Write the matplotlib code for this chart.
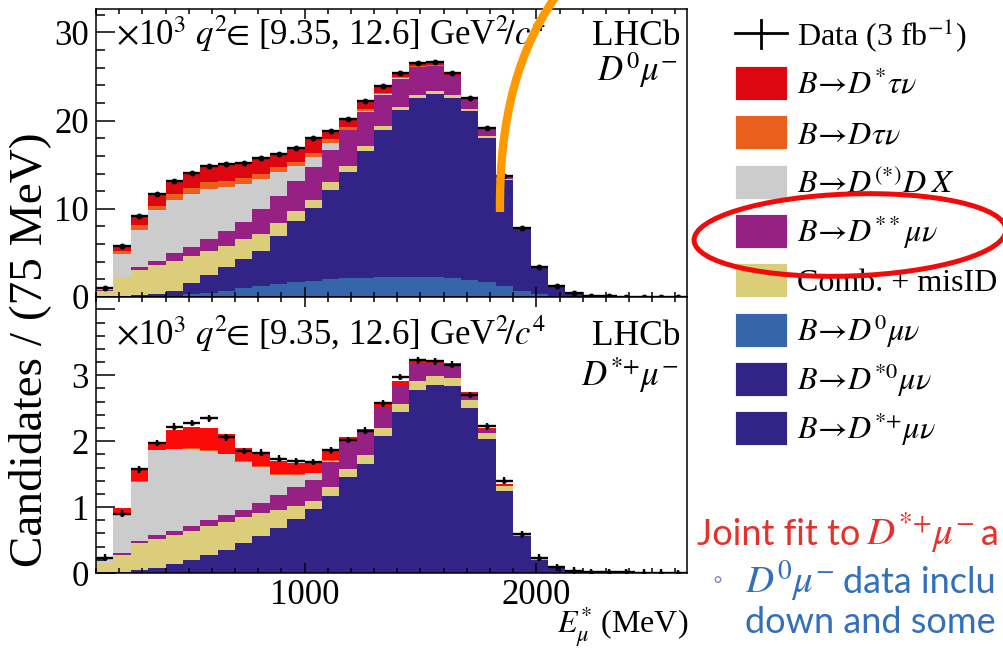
import numpy as np
import matplotlib
matplotlib.use("Agg")
import matplotlib.pyplot as plt
from matplotlib.patches import Rectangle, Ellipse, PathPatch
from matplotlib.path import Path
from matplotlib.lines import Line2D
import matplotlib.transforms as mtransforms
from matplotlib.ticker import MultipleLocator

plt.rcParams['font.family'] = ['Liberation Serif', 'DejaVu Serif']
plt.rcParams['mathtext.fontset'] = 'stix'

# ---------------- data (x 10^3 candidates per 75 MeV bin) ----------------
bin_lo, bin_hi, bin_w = 100, 2650, 75

top_data  = [1.02, 5.76, 9.24, 11.7, 13.14, 14.05, 14.89, 15.11, 15.19, 15.8, 16.25, 16.9, 18.03, 18.79,
             20.15, 22.2, 23.94, 25.42, 26.55, 26.67, 25.42, 22.58, 19.17, 13.71, 7.84, 3.45, 1.25, 0.40,
             0.13, 0.08, 0.05, 0.04, 0.03, 0.02]
top_d0mu  = [0, 0, 0, 0.02, 0.15, 0.3, 0.4, 0.7, 1.0, 1.25, 1.5, 1.7, 1.85, 2.0, 2.1, 2.2, 2.25, 2.3, 2.3,
             2.25, 2.1, 1.9, 1.65, 1.3, 0.7, 0.35, 0.1, 0.03, 0, 0, 0, 0, 0, 0]
top_dstmu = [0, 0.11, 0.19, 0.32, 0.57, 1.25, 2.14, 2.67, 3.32, 4.02, 5.36, 6.9, 8.26, 10.16, 12.07, 14.35,
             16.65, 18.95, 20.31, 20.82, 20.51, 19.2, 16.38, 11.92, 7.03, 3.02, 1.07, 0.32, 0.1, 0.06, 0.04,
             0.03, 0.02, 0.01]
top_comb  = [0.72, 2.12, 2.88, 3.3, 3.41, 3.14, 2.73, 2.46, 2.2, 1.9, 1.5, 1.1, 0.91, 0.87, 0.68, 0.53, 0.45,
             0.3, 0.27, 0.3, 0.27, 0.27, 0.19, 0.19, 0.15, 0.1, 0.07, 0.04, 0.02, 0.02, 0.01, 0.01, 0.01, 0.01]
top_dss   = [0.03, 0.08, 0.3, 0.49, 0.87, 1.02, 1.33, 1.7, 2.0, 2.77, 3.14, 3.41, 3.71, 3.6, 4.05, 3.9, 3.6,
             3.22, 3.22, 2.84, 2.16, 1.06, 0.87, 0.3, 0.05, 0.03, 0.01, 0, 0, 0, 0, 0, 0, 0]
top_ddx   = [0.3, 2.58, 4.24, 5.68, 6.02, 5.98, 5.68, 4.92, 4.32, 3.41, 2.65, 1.7, 1.14, 0.83, 0.08, 0.08,
             0.05, 0.03, 0.02, 0.02, 0.02, 0.01, 0, 0, 0, 0, 0, 0, 0, 0, 0, 0, 0, 0]
top_dtau  = [0, 0.3, 0.5, 0.55, 0.65, 0.7, 0.75, 0.75, 0.7, 0.65, 0.6, 0.55, 0.5, 0.4, 0.3, 0.2, 0.15, 0.1,
             0.05, 0.05, 0.05, 0.03, 0.02, 0.01, 0, 0, 0, 0, 0, 0, 0, 0, 0, 0]
top_dstau = [0.02, 0.6, 1.1, 1.3, 1.45, 1.6, 1.8, 1.85, 1.6, 1.8, 1.5, 1.5, 1.65, 1.0, 0.85, 0.9, 0.7, 0.55,
             0.35, 0.35, 0.28, 0.25, 0.2, 0.1, 0.05, 0.03, 0, 0, 0, 0, 0, 0, 0, 0]
top_err = 0.15

bot_data  = [0.235, 0.9, 1.575, 1.975, 2.22, 2.275, 2.345, 2.06, 1.85, 1.825, 1.735, 1.695, 1.685, 1.86,
             2.02, 2.16, 2.575, 2.975, 3.225, 3.21, 3.16, 2.7, 2.225, 1.4, 0.585, 0.235, 0.085, 0.035,
             0.015, 0.01, 0.008, 0.005, 0.004, 0.003]
bot_dstmu = [0, 0.01, 0.04, 0.08, 0.13, 0.2, 0.27, 0.35, 0.45, 0.56, 0.68, 0.82, 0.97, 1.17, 1.46, 1.66,
             2.08, 2.45, 2.77, 2.86, 2.84, 2.51, 2.03, 1.24, 0.56, 0.2, 0.07, 0.03, 0.012, 0.008, 0.005,
             0.004, 0.003, 0.002]
bot_comb  = [0.13, 0.27, 0.42, 0.43, 0.44, 0.43, 0.44, 0.42, 0.40, 0.35, 0.28, 0.19, 0.13, 0.13, 0.125,
             0.125, 0.125, 0.11, 0.14, 0.125, 0.125, 0.11, 0.1, 0.075, 0.025, 0.02, 0.01, 0.005, 0, 0, 0,
             0, 0, 0]
bot_dss   = [0.01, 0.02, 0.025, 0.06, 0.07, 0.085, 0.1, 0.115, 0.11, 0.15, 0.225, 0.30, 0.31, 0.385, 0.425,
             0.35, 0.31, 0.30, 0.275, 0.2, 0.175, 0.09, 0.04, 0.025, 0.01, 0.01, 0, 0, 0, 0, 0, 0, 0, 0]
bot_ddx   = [0.08, 0.585, 0.9, 1.29, 1.235, 1.165, 1.04, 0.915, 0.725, 0.55, 0.3, 0.175, 0.11, 0.02, 0.01,
             0.005, 0, 0, 0, 0, 0, 0, 0, 0, 0, 0, 0, 0, 0, 0, 0, 0, 0, 0]
bot_dtau  = [0, 0.005, 0.01, 0.01, 0.01, 0.01, 0.01, 0.01, 0.01, 0.01, 0.01, 0.01, 0.005, 0.005, 0, 0, 0,
             0, 0, 0, 0, 0, 0, 0, 0, 0, 0, 0, 0, 0, 0, 0, 0, 0]
bot_dstau = [0.02, 0.1, 0.19, 0.115, 0.29, 0.325, 0.335, 0.3, 0.2, 0.2, 0.2, 0.175, 0.165, 0.175, 0.05,
             0.05, 0.065, 0.06, 0.065, 0.05, 0.05, 0.04, 0.035, 0.015, 0.01, 0.01, 0, 0, 0, 0, 0, 0, 0, 0]
bot_err = 0.05

legend_labels = ["Data (3 fb$^{-1}$)",
                 r"$B\!\rightarrow\!D^{*}\tau\nu$",
                 r"$B\!\rightarrow\!D\tau\nu$",
                 r"$B\!\rightarrow\!D^{(*)}D\;X$",
                 r"$B\!\rightarrow\!D^{**}\mu\nu$",
                 "Comb. + misID",
                 r"$B\!\rightarrow\!D^{0}\mu\nu$",
                 r"$B\!\rightarrow\!D^{*0}\mu\nu$",
                 r"$B\!\rightarrow\!D^{*{+}}\mu\nu$"]

# ---------------- colours ----------------
c_red, c_red2 = '#dc0710', '#fc0a0a'
c_or = '#e8601c'
c_grey = '#cccccc'
c_pur = '#962083'
c_tan = '#dccd7a'
c_lb = '#3566aa'
c_db = '#322387'

W, H = 1004, 648
fig = plt.figure(figsize=(W / 100, H / 100), dpi=100)
PX = mtransforms.Affine2D().scale(1 / W, -1 / H).translate(0, 1) + fig.transFigure

ax1 = fig.add_axes([96 / W, 1 - 297 / H, 591 / W, 288 / H])
ax2 = fig.add_axes([96 / W, 1 - 573 / H, 591 / W, 276 / H])

edges = np.arange(bin_lo, bin_hi + 1, bin_w)
centers = edges[:-1] + bin_w / 2


def draw_stack(ax, comps):
    base = np.zeros(len(edges) - 1)
    for vals, col in comps:
        v = np.asarray(vals, float)
        ax.stairs(base + v, edges, baseline=base.copy(), fill=True, color=col, lw=0)
        base = base + v


draw_stack(ax1, [(top_d0mu, c_lb), (top_dstmu, c_db), (top_comb, c_tan), (top_dss, c_pur),
                 (top_ddx, c_grey), (top_dtau, c_or), (top_dstau, c_red)])
draw_stack(ax2, [(bot_dstmu, c_db), (bot_comb, c_tan), (bot_dss, c_pur),
                 (bot_ddx, c_grey), (bot_dtau, c_or), (bot_dstau, c_red2)])

ax1.errorbar(centers, top_data, xerr=bin_w / 2, yerr=top_err, fmt='o', ms=3.2, color='k',
             elinewidth=1.7, capsize=0, zorder=5)
ax2.errorbar(centers, bot_data, xerr=bin_w / 2, yerr=bot_err, fmt='o', ms=2.2, color='k',
             elinewidth=1.7, capsize=0, zorder=5)

ax1.set_xlim(bin_lo, bin_hi)
ax2.set_xlim(bin_lo, bin_hi)
ax1.set_ylim(0, 288 / 8.82)
ax2.set_ylim(0, 276 / 65.9)

for ax in (ax1, ax2):
    ax.xaxis.set_major_locator(MultipleLocator(1000))
    ax.xaxis.set_minor_locator(MultipleLocator(100))
    ax.tick_params(which='both', direction='in', top=True, bottom=True, left=True, right=False,
                   labelsize=25, width=1.1, colors='k')
    ax.tick_params(axis='y', which='major', length=14, pad=5)
    ax.tick_params(axis='y', which='minor', length=6.5)
    ax.tick_params(axis='x', which='major', length=7.5, pad=4)
    ax.tick_params(axis='x', which='minor', length=3.5)
    for sp in ax.spines.values():
        sp.set_linewidth(1.1)

ax1.yaxis.set_major_locator(MultipleLocator(10))
ax1.yaxis.set_minor_locator(MultipleLocator(2))
ax1.tick_params(axis='x', labelbottom=False)
ax2.set_yticks([0, 1, 2, 3, 4], ['0', '1', '2', '3', ''])
ax2.yaxis.set_minor_locator(MultipleLocator(0.2))
ax2.set_xticks([1000, 2000], ['1000', '2000'])

# ---------------- in-panel texts ----------------
for yb, chan, ychan in [(45, r"$D^{0}\mu^{-}$", 81), (345, r"$D^{*{+}}\mu^{-}$", 386)]:
    fig.text(116, yb, r"$\times$10$^{3}$", transform=PX, fontsize=25, va='baseline', ha='left')
    fig.text(195, yb, r"$q^{2}\!\!\in\!$ [9.35, 12.6] GeV$^{2}\!/c^{4}$", transform=PX,
             fontsize=25, va='baseline', ha='left')
    fig.text(681, yb, "LHCb", transform=PX, fontsize=25.5, va='baseline', ha='right')
    fig.text(678, ychan, chan, transform=PX, fontsize=25, va='baseline', ha='right')

fig.text(688, 634, r"$E^{*}_{\mu}$ (MeV)", transform=PX, fontsize=23, va='baseline', ha='right')
fig.text(30, 350, "Candidates / (75 MeV)", transform=PX, fontsize=34, rotation=90,
         va='center', ha='center')

# ---------------- legend (outside, manual) ----------------
fig.add_artist(Line2D([735, 787], [33, 33], transform=PX, color='k', lw=2.0))
fig.add_artist(Line2D([761, 761], [20, 48], transform=PX, color='k', lw=2.0))
fig.text(797, 45, legend_labels[0], transform=PX, fontsize=23, va='baseline', ha='left')
patch_cols = [c_red, c_or, c_grey, c_pur, c_tan, c_lb, c_db, c_db]
for i, (col, lab) in enumerate(zip(patch_cols, legend_labels[1:])):
    yc = 83 + i * 49.3
    fig.add_artist(Rectangle((735, yc - 17), 52, 34, transform=PX, facecolor=col,
                             edgecolor='white', lw=0.6))
    fig.text(797, yc + 11, lab, transform=PX, fontsize=23, va='baseline', ha='left')

# ---------------- slide annotations ----------------
arc = Path([(500, 212), (499, 120), (518, 45), (562, -12)],
           [Path.MOVETO, Path.CURVE4, Path.CURVE4, Path.CURVE4])
fig.add_artist(PathPatch(arc, transform=PX, facecolor='none', edgecolor='#ff9900', lw=6,
                         capstyle='butt', zorder=10))
fig.add_artist(Ellipse((850, 235), 312, 82, angle=-2, transform=PX, facecolor='none',
                       edgecolor='#f00a0a', lw=3.6, zorder=10))

sans = ['Lato', 'DejaVu Sans']
red_t, blue_t = '#e4322b', '#3370bb'
fig.text(697, 545, "Joint fit to", transform=PX, fontsize=26, color=red_t,
         family=sans, va='baseline', ha='left')
fig.text(866, 545, r"$D^{*{+}}\mu^{-}$", transform=PX, fontsize=28, color=red_t,
         family=sans, va='baseline', ha='left')
fig.text(981, 545, "a", transform=PX, fontsize=26, color=red_t,
         family=sans, va='baseline', ha='left')
fig.text(712, 588, "\u25e6", transform=PX, fontsize=18, color='#9b7bc4', family=sans,
         va='baseline', ha='left')
fig.text(745, 593, r"$D^{0}\mu^{-}$", transform=PX, fontsize=28, color=blue_t,
         family=sans, va='baseline', ha='left')
fig.text(843, 593, "data inclu", transform=PX, fontsize=26, color=blue_t,
         family=sans, va='baseline', ha='left')
fig.text(745, 633, "down and some", transform=PX, fontsize=26, color=blue_t,
         family=sans, va='baseline', ha='left')

fig.savefig("out.png", dpi=100)
